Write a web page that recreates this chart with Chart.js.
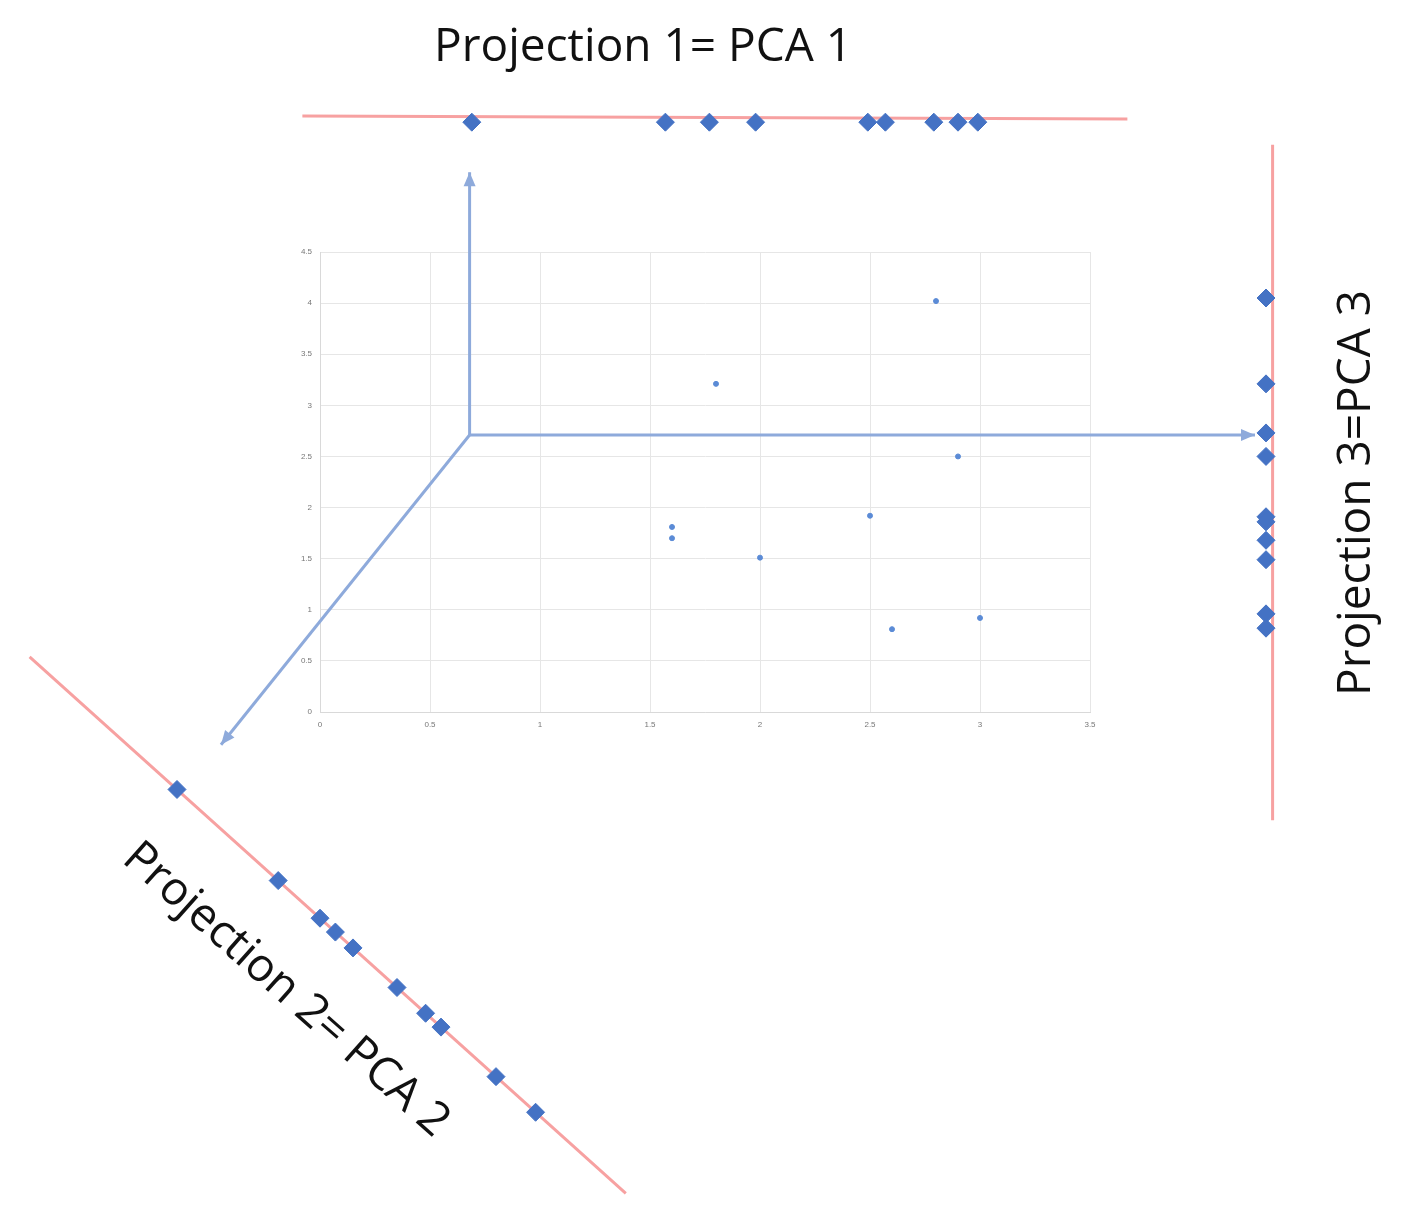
<!DOCTYPE html>
<html>
<head>
<meta charset="utf-8">
<style>
  html, body { margin: 0; padding: 0; background: #fff; }
  #wrap { position: relative; width: 1401px; height: 1226px; }
</style>
<script src="https://cdn.jsdelivr.net/npm/chart.js@4"></script>
</head>
<body>
<div id="wrap"><canvas id="chart" width="1401" height="1226"></canvas></div>
<script>
// Original 2D data
const pointsX = [2.8, 1.8, 2.9, 2.5, 1.6, 1.6, 2.0, 2.6, 3.0];
const pointsY = [4.02, 3.21, 2.5, 1.92, 1.81, 1.70, 1.51, 0.81, 0.92];

// Projection 1 (top line): x positions of markers
const proj1Values = [0.69, 1.57, 1.77, 1.98, 2.49, 2.57, 2.79, 2.90, 2.99];
// Projection 3 (right line): y positions of markers
const proj3Values = [4.05, 3.21, 2.73, 2.50, 1.91, 1.86, 1.68, 1.49, 0.96, 0.82];
// Projection 2 (diagonal line): x positions of markers along the line
const proj2Values = [-0.65, -0.19, 0.0, 0.07, 0.15, 0.35, 0.48, 0.55, 0.80, 0.98];

const xTicks = [0, 0.5, 1, 1.5, 2, 2.5, 3, 3.5];
const yTicks = [0, 0.5, 1, 1.5, 2, 2.5, 3, 3.5, 4, 4.5];

// Projection lines and arrows (data units)
const line1 = [{x: -0.08, y: 5.83}, {x: 3.67, y: 5.80}];
const line3 = [{x: 4.33, y: 5.55}, {x: 4.33, y: -1.06}];
const line2 = [{x: -1.32, y: 0.54}, {x: 1.39, y: -4.71}];
const arrowOrigin = {x: 0.68, y: 2.71};
const arrowEnds = [{x: 0.68, y: 5.28}, {x: 4.25, y: 2.71}, {x: -0.45, y: -0.32}];

const onLine2 = (x) => {
	const t = (x - line2[0].x) / (line2[1].x - line2[0].x);
	return {x, y: line2[0].y + t * (line2[1].y - line2[0].y)};
};

const BLUE = '#4472c4';
const RED = '#f7a1a1';
const ARROW = '#8eaadb';

const lineSet = (data, color) => ({
	type: 'line', data, borderColor: color, borderWidth: 3, pointRadius: 0,
	showLine: true, clip: false, fill: false,
});
const markerSet = (data) => ({
	data, pointStyle: 'rectRot', pointRadius: 8, backgroundColor: BLUE,
	borderColor: BLUE, clip: false, isMarker: true,
});

const overlay = {
	id: 'overlay',
	afterDatasetsDraw(chart) {
		const {ctx, scales: {x, y}} = chart;
		ctx.save();
		// projection markers lie outside the chart area, so draw them from the meta elements
		chart.data.datasets.forEach((ds, i) => {
			if (!ds.isMarker) return;
			for (const el of chart.getDatasetMeta(i).data) {
				ctx.fillStyle = BLUE;
				ctx.strokeStyle = BLUE;
				ctx.lineWidth = 1;
				Chart.helpers.drawPoint(ctx, {pointStyle: 'rectRot', radius: 9, rotation: 0, borderWidth: 1}, el.x, el.y);
			}
		});
		const ox = x.getPixelForValue(arrowOrigin.x);
		const oy = y.getPixelForValue(arrowOrigin.y);
		ctx.fillStyle = ARROW;
		for (const end of arrowEnds) {
			const ex = x.getPixelForValue(end.x);
			const ey = y.getPixelForValue(end.y);
			const a = Math.atan2(ey - oy, ex - ox);
			ctx.beginPath();
			ctx.moveTo(ex, ey);
			ctx.lineTo(ex - 14 * Math.cos(a) + 6 * Math.sin(a), ey - 14 * Math.sin(a) - 6 * Math.cos(a));
			ctx.lineTo(ex - 14 * Math.cos(a) - 6 * Math.sin(a), ey - 14 * Math.sin(a) + 6 * Math.cos(a));
			ctx.closePath();
			ctx.fill();
		}
		// titles
		ctx.fillStyle = '#111';
		ctx.font = '46px "Open Sans", sans-serif';
		ctx.textAlign = 'center';
		ctx.textBaseline = 'middle';
		ctx.fillText('Projection 1= PCA 1', 643, 48);
		ctx.save();
		ctx.translate(1357, 493);
		ctx.rotate(-Math.PI / 2);
		ctx.fillText('Projection 3=PCA 3', 0, 0);
		ctx.restore();
		ctx.save();
		ctx.translate(286, 990);
		ctx.rotate(Math.atan2(527, 595));
		ctx.fillText('Projection 2= PCA 2', 0, 0);
		ctx.restore();
		ctx.restore();
	},
};

new Chart(document.getElementById('chart'), {
	type: 'scatter',
	data: {
		datasets: [
			lineSet(line1, RED),
			lineSet(line3, RED),
			lineSet(line2, RED),
			...arrowEnds.map((e) => lineSet([arrowOrigin, e], ARROW)),
			markerSet(proj1Values.map((v) => ({x: v, y: line1[0].y - 0.06}))),
			markerSet(proj3Values.map((v) => ({x: line3[0].x - 0.03, y: v}))),
			markerSet(proj2Values.map(onLine2)),
			{data: pointsX.map((v, i) => ({x: v, y: pointsY[i]})), pointRadius: 2.5,
				backgroundColor: '#5b8bd6', borderColor: '#5b8bd6'},
		],
	},
	options: {
		responsive: false,
		animation: false,
		layout: {padding: {left: 300, right: 311, top: 252, bottom: 494}},
		plugins: {legend: {display: false}, tooltip: {enabled: false}},
		scales: {
			x: {
				type: 'linear', min: 0, max: 3.5,
				afterFit: (s) => { s.height = 20; },
				afterBuildTicks: (s) => { s.ticks = xTicks.map((v) => ({value: v})); },
				grid: {color: '#e6e6e6', drawTicks: false},
				border: {color: '#d9d9d9'},
				ticks: {font: {size: 8}, color: '#777', padding: 8, callback: (v) => String(v)},
			},
			y: {
				type: 'linear', min: 0, max: 4.5,
				afterFit: (s) => { s.width = 20; },
				afterBuildTicks: (s) => { s.ticks = yTicks.map((v) => ({value: v})); },
				grid: {color: '#e6e6e6', drawTicks: false},
				border: {color: '#d9d9d9'},
				ticks: {font: {size: 8}, color: '#777', padding: 8, callback: (v) => String(v)},
			},
		},
	},
	plugins: [overlay],
});
</script>
</body>
</html>
